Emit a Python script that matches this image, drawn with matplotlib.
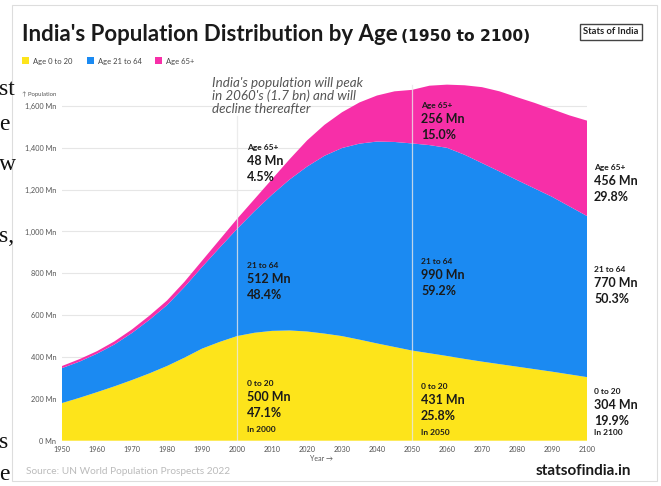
import matplotlib.pyplot as plt
from matplotlib.patches import Rectangle

years = list(range(1950, 2101, 5))
age_0_20 = [180, 205, 232, 260, 290, 322, 357, 397, 440, 472, 500,
            516, 525, 527, 522, 512, 500, 483, 465, 448, 431,
            418, 405, 391, 378, 366, 354, 342, 330, 317, 304]
age_21_64 = [167, 173, 184, 200, 225, 256, 291, 338, 390, 450, 512,
             581, 651, 721, 788, 850, 899, 937, 965, 980, 990,
             995, 995, 976, 949, 921, 892, 864, 836, 803, 770]
age_65 = [10, 12, 12, 15, 17, 20, 22, 25, 30, 38, 48,
          58, 74, 97, 125, 148, 171, 197, 220, 242, 256,
          284, 302, 332, 363, 383, 396, 409, 419, 435, 456]

yticks = [0, 200, 400, 600, 800, 1000, 1200, 1400, 1600]
ytick_labels = ['0 Mn', '200 Mn', '400 Mn', '600 Mn', '800 Mn', '1,000 Mn',
                '1,200 Mn', '1,400 Mn', '1,600 Mn']
xticks = list(range(1950, 2101, 10))

legend_names = ['Age 0 to 20', 'Age 21 to 64', 'Age 65+']
colors = ['#FDE41B', '#1B8AF2', '#F72FA8']

W, H = 661, 486
plt.rcParams['font.family'] = ['Lato', 'DejaVu Sans']

fig = plt.figure(figsize=(W / 100, H / 100), dpi=100)
fig.patch.set_facecolor('white')


def px(x, y):
    return x / W, 1 - y / H


def txt(x, y, s, **kw):
    fx, fy = px(x, y)
    fig.text(fx, fy, s, **kw)


# card border
fig.add_artist(Rectangle(px(12, 481), (657 - 12) / W, (481 - 5) / H,
                         transform=fig.transFigure, fill=False,
                         edgecolor='#DDDDDD', lw=0.8))

ax = fig.add_axes([62 / W, 1 - 440.7 / H, 525 / W, 1750 * 0.2092 / H])
ax.stackplot(years, age_0_20, age_21_64, age_65, colors=colors, lw=0)
ax.set_xlim(1950, 2100)
ax.set_ylim(0, 1750)
for s in ax.spines.values():
    s.set_visible(False)
ax.set_yticks(yticks)
ax.set_yticklabels(ytick_labels)
ax.set_xticks(xticks)
ax.tick_params(length=0, labelsize=5.3, labelcolor='#555555', pad=4)
ax.grid(axis='y', color='#E6E6E6', lw=0.8)
ax.set_axisbelow(True)
ax.axvline(2000, ymax=1550 / 1750, color='#E8E8E8', lw=0.9, alpha=0.8)
ax.axvline(2050, ymax=1700 / 1750, color='#E8E8E8', lw=0.9, alpha=0.8)

# title and legend
txt(22, 41, "India's Population Distribution by Age", fontsize=16,
    fontweight='bold', color='#1A1A1A')
txt(401, 41, '(1950 to 2100)', fontsize=11.2, fontweight='bold',
    color='#1A1A1A', family='DejaVu Sans')
lx = [22, 87, 155]
for x, c, name in zip(lx, colors, legend_names):
    fig.add_artist(Rectangle(px(x, 64), 7 / W, 7 / H, transform=fig.transFigure,
                             color=c, lw=0))
    txt(x + 11, 64, name, fontsize=5.5, color='#444444')

fig.text(*px(611, 32), 'Stats of India', fontsize=6.8, fontweight='bold',
         ha='center', va='center', color='#222222',
         bbox=dict(boxstyle='square,pad=0.35', fc='white', ec='#444444', lw=1))

txt(22, 96, '↑ Population', fontsize=4.3, color='#555555')
txt(322, 461, 'Year →', fontsize=5, color='#555555', ha='center')
txt(26, 474, 'Source: UN World Population Prospects 2022', fontsize=7.3,
    color='#BBBBBB')
txt(631, 471, 'statsofindia.in', fontsize=11, fontweight='bold',
    color='#1A1A1A', ha='right', va='center')

txt(212, 77, "India's population will peak\nin 2060's (1.7 bn) and will\n"
    "decline thereafter", fontsize=9.6, style='italic', color='#555555',
    linespacing=1.05, va='top')


def block(x, y, lines):
    sizes = {0: 6, 1: 9, 2: 9, 3: 6}
    offs = [0, 15, 31, 46]
    for i, s in enumerate(lines):
        txt(x, y + offs[i], s, fontsize=sizes[i], fontweight='bold',
            color='#1A1A1A')


block(247, 150, ['Age 65+', '48 Mn', '4.5%'])
block(247, 268, ['21 to 64', '512 Mn', '48.4%'])
block(247, 386, ['0 to 20', '500 Mn', '47.1%', 'In 2000'])
block(421, 108, ['Age 65+', '256 Mn', '15.0%'])
block(421, 264, ['21 to 64', '990 Mn', '59.2%'])
block(421, 389, ['0 to 20', '431 Mn', '25.8%', 'In 2050'])
block(594, 170, ['Age 65+', '456 Mn', '29.8%'])
block(594, 272, ['21 to 64', '770 Mn', '50.3%'])
block(594, 394, ['0 to 20', '304 Mn', '19.9%'])
txt(594, 435, 'In 2100', fontsize=6, fontweight='bold', color='#1A1A1A')

# fragments of surrounding page text at the left edge
for s, y in [('st', 95), ('e', 130), ('w', 170), ('s,', 242), ('s', 448),
             ('e', 480)]:
    txt(-1, y, s, fontsize=17, family='Liberation Serif', color='#111111')

fig.savefig('out.png', dpi=100)
